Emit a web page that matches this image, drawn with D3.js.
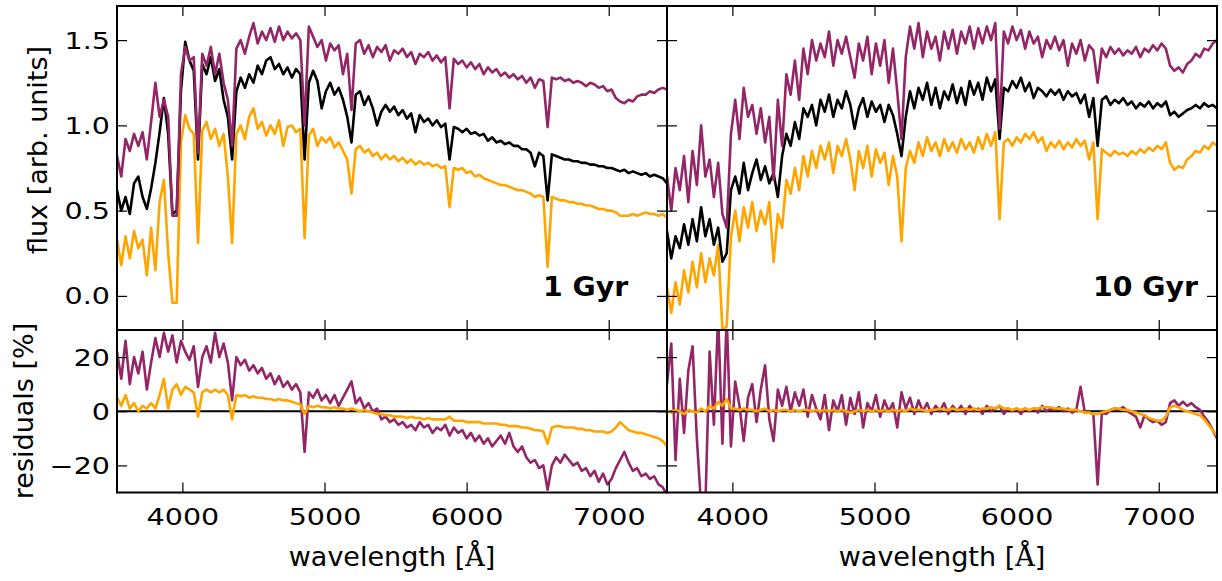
<!DOCTYPE html>
<html><head><meta charset="utf-8">
<script src="https://cdn.jsdelivr.net/npm/d3@7"></script>
<style>body{margin:0;background:#fff}svg{display:block}</style>
</head><body><svg id="c" width="1222" height="581"></svg>
<script>
// ---------- DATA ----------
const wavelengths = [
3540,3570,3600,3630,3660,3690,3720,3750,3780,3810,
3840,3870,3900,3930,3960,3990,4020,4050,4080,4110,
4140,4170,4200,4230,4260,4290,4320,4350,4380,4410,
4440,4470,4500,4530,4560,4590,4620,4650,4680,4710,
4740,4770,4800,4830,4860,4890,4920,4950,4980,5010,
5040,5070,5100,5130,5160,5190,5220,5250,5280,5310,
5340,5370,5400,5430,5460,5490,5520,5550,5580,5610,
5640,5670,5700,5730,5760,5790,5820,5850,5880,5910,
5940,5970,6000,6030,6060,6090,6120,6150,6180,6210,
6240,6270,6300,6330,6360,6390,6420,6450,6480,6510,
6540,6570,6600,6630,6660,6690,6720,6750,6780,6810,
6840,6870,6900,6930,6960,6990,7020,7050,7080,7110,
7140,7170,7200,7230,7260,7290,7320,7350,7380,7410];

// 1 Gyr fluxes
const flux1Black = [
0.62,0.50,0.58,0.48,0.66,0.70,0.58,0.51,0.63,0.78,
0.96,1.16,0.95,0.48,0.50,1.20,1.49,1.38,1.32,0.80,
1.36,1.30,1.40,1.26,1.33,1.15,1.05,0.80,1.20,1.28,
1.22,1.30,1.25,1.35,1.30,1.38,1.40,1.33,1.36,1.30,
1.34,1.28,1.33,1.30,0.80,1.25,1.32,1.26,1.10,1.20,
1.25,1.18,1.22,1.15,1.05,0.90,1.18,1.20,1.12,1.17,
1.10,1.00,1.08,1.12,1.08,1.11,1.06,1.09,1.04,1.07,
0.96,1.06,1.02,1.04,1.00,1.03,0.99,1.01,0.80,0.99,
0.98,0.96,0.98,0.95,0.96,0.94,0.95,0.91,0.93,0.90,
0.91,0.89,0.90,0.88,0.88,0.86,0.86,0.84,0.76,0.84,
0.82,0.56,0.83,0.82,0.81,0.80,0.80,0.79,0.79,0.78,
0.78,0.77,0.77,0.76,0.76,0.75,0.75,0.74,0.73,0.74,
0.72,0.73,0.72,0.71,0.72,0.70,0.71,0.70,0.69,0.66];
const flux1Orange = [
0.33,0.18,0.35,0.22,0.38,0.28,0.33,0.12,0.40,0.15,
0.55,0.68,0.25,-0.04,-0.04,0.90,1.06,0.98,0.95,0.31,
0.97,1.02,0.92,0.98,0.88,0.95,0.70,0.31,0.95,1.00,
0.92,1.05,1.10,0.98,1.02,0.94,1.00,0.95,1.03,0.88,
0.99,1.00,0.96,0.98,0.34,0.94,0.98,0.88,0.93,0.90,
0.93,0.87,0.90,0.85,0.80,0.60,0.86,0.88,0.84,0.86,
0.82,0.84,0.80,0.83,0.80,0.82,0.79,0.81,0.78,0.80,
0.77,0.79,0.77,0.78,0.76,0.77,0.75,0.76,0.52,0.75,
0.74,0.75,0.72,0.73,0.70,0.71,0.69,0.68,0.67,0.66,
0.65,0.65,0.64,0.63,0.62,0.62,0.61,0.60,0.58,0.59,
0.58,0.17,0.58,0.57,0.56,0.56,0.55,0.55,0.54,0.54,
0.53,0.53,0.52,0.51,0.51,0.50,0.50,0.49,0.47,0.47,
0.47,0.48,0.47,0.48,0.49,0.48,0.48,0.47,0.48,0.46];
const flux1Purple = [
0.82,0.70,0.92,0.85,0.95,0.88,0.96,0.80,1.02,1.25,
1.05,1.15,1.05,0.47,0.47,1.30,1.46,1.38,1.40,0.84,
1.42,1.35,1.46,1.30,1.42,1.25,1.15,0.88,1.45,1.50,
1.42,1.52,1.60,1.48,1.55,1.50,1.57,1.49,1.58,1.50,
1.55,1.51,1.54,1.50,1.00,1.58,1.52,1.46,1.50,1.38,
1.48,1.44,1.47,1.30,1.42,1.09,1.48,1.50,1.42,1.47,
1.40,1.46,1.43,1.47,1.38,1.44,1.42,1.45,1.40,1.43,
1.36,1.42,1.40,1.43,1.38,1.41,1.37,1.40,1.10,1.39,
1.36,1.38,1.34,1.37,1.33,1.36,1.30,1.34,1.31,1.33,
1.29,1.31,1.28,1.30,1.27,1.29,1.25,1.28,1.22,1.27,
1.26,0.99,1.28,1.27,1.28,1.26,1.27,1.25,1.26,1.25,
1.23,1.25,1.24,1.22,1.23,1.20,1.21,1.16,1.14,1.13,
1.15,1.14,1.17,1.18,1.18,1.20,1.19,1.21,1.22,1.21];

// 10 Gyr fluxes
const flux10Black = [
0.38,0.22,0.35,0.28,0.42,0.30,0.45,0.32,0.52,0.35,
0.45,0.30,0.40,0.20,0.25,0.62,0.70,0.60,0.78,0.62,
0.72,0.80,0.68,0.76,0.66,0.72,0.58,0.82,0.95,0.88,
1.02,0.92,1.10,1.05,1.12,1.00,1.15,1.08,1.18,1.05,
1.15,1.10,1.20,1.12,0.98,1.10,1.16,1.05,1.14,1.08,
1.12,1.02,1.12,1.06,0.95,0.82,1.05,1.20,1.10,1.22,
1.15,1.25,1.12,1.22,1.10,1.20,1.15,1.24,1.13,1.22,
1.12,1.26,1.18,1.25,1.15,1.28,1.20,1.27,0.92,1.22,
1.20,1.26,1.22,1.28,1.20,1.25,1.16,1.22,1.20,1.17,
1.21,1.18,1.21,1.15,1.20,1.17,1.19,1.13,1.18,1.05,
1.16,0.88,1.15,1.17,1.12,1.15,1.13,1.16,1.12,1.14,
1.10,1.13,1.11,1.14,1.10,1.13,1.11,1.14,1.06,1.08,
1.05,1.07,1.09,1.10,1.12,1.10,1.13,1.11,1.12,1.10];
const flux10Orange = [
0.05,-0.10,0.08,-0.05,0.15,0.02,0.20,0.05,0.25,0.08,
0.22,0.12,0.30,-0.20,-0.18,0.35,0.50,0.32,0.52,0.40,
0.55,0.38,0.50,0.42,0.55,0.20,0.48,0.40,0.68,0.60,
0.75,0.62,0.82,0.70,0.85,0.75,0.88,0.80,0.90,0.72,
0.88,0.82,0.92,0.80,0.62,0.85,0.75,0.88,0.70,0.86,
0.78,0.84,0.65,0.82,0.70,0.32,0.75,0.85,0.78,0.90,
0.82,0.93,0.85,0.90,0.82,0.92,0.85,0.90,0.84,0.92,
0.86,0.90,0.84,0.93,0.86,0.95,0.88,0.96,0.45,0.90,
0.92,0.88,0.93,0.90,0.95,0.92,0.96,0.90,0.93,0.85,
0.90,0.87,0.91,0.86,0.90,0.87,0.92,0.88,0.91,0.80,
0.90,0.45,0.86,0.84,0.82,0.85,0.83,0.84,0.82,0.85,
0.83,0.86,0.84,0.87,0.85,0.88,0.86,0.90,0.78,0.74,
0.76,0.75,0.80,0.82,0.85,0.84,0.88,0.86,0.90,0.88];
const flux10Purple = [
0.70,0.50,0.75,0.62,0.82,0.55,0.85,0.65,1.00,0.70,
0.80,0.58,0.78,0.48,0.40,0.95,1.15,0.92,1.22,1.05,
1.12,0.95,1.10,0.90,1.05,0.68,1.15,0.88,1.30,1.18,
1.38,1.15,1.45,1.30,1.50,1.38,1.48,1.40,1.55,1.35,
1.50,1.42,1.52,1.40,1.28,1.48,1.38,1.52,1.30,1.48,
1.35,1.50,1.25,1.45,1.20,0.92,1.40,1.58,1.45,1.60,
1.40,1.55,1.45,1.52,1.38,1.55,1.45,1.56,1.42,1.55,
1.48,1.58,1.45,1.57,1.48,1.58,1.50,1.60,0.98,1.55,
1.48,1.58,1.50,1.56,1.45,1.55,1.48,1.52,1.40,1.50,
1.45,1.52,1.44,1.50,1.35,1.48,1.42,1.50,1.38,1.47,
1.44,1.25,1.45,1.40,1.46,1.42,1.45,1.41,1.44,1.42,
1.46,1.40,1.45,1.43,1.47,1.44,1.48,1.45,1.35,1.32,
1.34,1.31,1.36,1.38,1.42,1.40,1.45,1.44,1.48,1.50];

// residuals [%]
const res1Purple = [
22,12,26,10,20,14,22,8,18,27,
20,29,22,28,18,26,22,19,24,9,
20,24,18,29,20,25,18,4,20,17,
19,15,17,14,16,12,14,10,13,9,
11,8,10,7,-15,7,5,8,4,6,
3,6,2,5,8,11,3,5,1,3,
0,1,-3,-2,-4,-3,-5,-4,-6,-5,
-7,-4,-6,-5,-8,-6,-7,-5,-9,-6,
-8,-7,-10,-8,-11,-9,-12,-10,-13,-11,
-9,-12,-8,-13,-15,-13,-17,-19,-18,-21,
-20,-29,-20,-17,-19,-16,-18,-20,-19,-22,
-21,-24,-22,-26,-23,-27,-25,-21,-18,-15,
-19,-22,-21,-24,-23,-25,-24,-27,-28,-31];
const res1Orange = [
5,2,6,1,3,0,2,1,3,1,
6,12,1,8,10,6,9,8,7,-2,
7,8,7,8,7,8,6,-3,6,5.5,
6,5,5.5,5,5,4.5,4.5,4,4.5,4,
4,3.5,3,2.5,-1,2,1.5,2,1.5,1.5,
1,1.5,1,1,0.5,1,0.5,0,0.5,0,
-0.5,-1,-1,-1.5,-1.5,-2,-2,-2,-2.5,-2,
-2.5,-2.5,-3,-2.5,-3,-3,-3,-3,-2,-3.5,
-3.5,-3.5,-4,-4,-4,-4,-4.5,-4.5,-4.5,-4.5,
-5,-5,-5.5,-5.5,-5.5,-6,-6,-6.5,-7,-7,
-7.5,-12,-6,-5.5,-5.5,-6,-6,-6,-6.5,-6.5,
-7,-7,-7.5,-7.5,-7.5,-8,-7.5,-6,-4,-5.5,
-7,-7.5,-8,-8,-8.5,-9,-9.5,-10,-11,-13];
const res10Purple = [
10,25,-18,12,-8,15,24,-10,-35,-35,
22,-5,35,-12,35,-13,11,2,-11,5,
10,-4,8,17,-3,-11,8,2,9,0,
7,2,8,-2,6,1,-3,6,-7,4,
0,6,-5,5,-1,7,-6,3,0,6,
-2,4,0,3,-6,7,1,5,-1,4,
0,3,-1,2,0,3,-1,2,0,2,
-1,2,0,1,-1,2,0,1,2,-1,
1,0,1,-1,1,0,1,-0.5,2,0,
1,0.5,1.5,0,1,-0.5,0.5,9,-0.5,-0.5,
-1,-27,-0.5,-1,0.5,1,0.5,1.5,0,-1,
-2,-6,-1.5,-3,-4,-3.5,-5,-4,3,4,
2,3.5,2,3,1.5,0.5,-2,-4,-7,-10];
const res10Orange = [
0.5,-0.5,0.5,0,-1,0.5,0,-0.5,1,0,
2,1,3.5,2,4.5,1,1,0.5,1,0.5,
0.5,0,0.5,1,0,0.5,0,0.5,0.5,0,
0.5,0,0.5,0.5,0,0.5,0,0.5,0,0.5,
0,0.5,0,-0.5,0,0.5,0,0.5,0,0.5,
0,0.5,0,0.5,0,0.5,0,1,0.5,0.5,
0.5,0,0.5,0.5,1,0.5,0.5,1,0.5,0.5,
1,0.5,1,0.5,1,1,1.5,1,2,1,
1,0.5,1,0.5,1,0.5,1,1,1.5,1.5,
1.5,1,1,1,0.5,0.5,0.5,0,-0.5,-0.5,
-1,-1,-0.5,0,0.5,1,1,0.5,0.5,0,
-0.5,-1,-1.5,-2.5,-3,-3.5,-3.5,-2,1.5,2,
1.5,0.5,0,-0.5,-1,-1.5,-3,-5,-7,-9];

const xTicks = [4000, 5000, 6000, 7000];
const fluxTicks = [0.0, 0.5, 1.0, 1.5];
const resTicks = [-20, 0, 20];
const panelLabels = ["1 Gyr", "10 Gyr"];

// ---------- LAYOUT ----------
const svg = d3.select("#c");
const COL = {purple: "#932667", orange: "#ffa500", black: "#000000"};
const FONT = "'DejaVu Sans', 'Bitstream Vera Sans', sans-serif";
const topY = [6, 330], botY = [330, 492.5];
const LW = 2.6;
const panels = [
  {x0: 117, x1: 667, label: panelLabels[0], labelX: 543, yLabels: true,
   flux: [["orange", flux1Orange], ["black", flux1Black], ["purple", flux1Purple]],
   res: [["purple", res1Purple], ["orange", res1Orange]]},
  {x0: 667, x1: 1217, label: panelLabels[1], labelX: 1093, yLabels: false,
   flux: [["orange", flux10Orange], ["black", flux10Black], ["purple", flux10Purple]],
   res: [["purple", res10Purple], ["orange", res10Orange]]}
];

const TS = 1.27; // tick label horizontal stretch
let clipId = 0;

function drawAxes(g, x, y, x0, x1, y0, y1, yTickVals, showXLabels, showYLabels, yFmt) {
  const gb = g.append("g").attr("transform", `translate(0,${y1})`)
    .call(d3.axisBottom(x).tickValues(xTicks).tickSizeInner(-10).tickSizeOuter(0)
      .tickFormat(showXLabels ? d3.format("d") : ""));
  const gt = g.append("g").attr("transform", `translate(0,${y0})`)
    .call(d3.axisTop(x).tickValues(xTicks).tickSizeInner(-10).tickSizeOuter(0).tickFormat(""));
  const gl = g.append("g").attr("transform", `translate(${x0},0)`)
    .call(d3.axisLeft(y).tickValues(yTickVals).tickSizeInner(-10).tickSizeOuter(0)
      .tickFormat(showYLabels ? yFmt : ""));
  const gr = g.append("g").attr("transform", `translate(${x1},0)`)
    .call(d3.axisRight(y).tickValues(yTickVals).tickSizeInner(-10).tickSizeOuter(0).tickFormat(""));
  [gb, gt, gl, gr].forEach(a => {
    a.select(".domain").remove();
    a.selectAll("line").attr("stroke", "#000").attr("stroke-width", 1.2);
  });
  gb.selectAll("text").attr("y", 32.5).attr("dy", null)
    .attr("font-family", FONT).attr("font-size", 22.5).attr("fill", "#000")
    .attr("transform", `scale(${TS},1)`);
  gl.selectAll("text").attr("x", -7 / TS).attr("y", 8).attr("dy", null)
    .attr("font-family", FONT).attr("font-size", 22.5).attr("fill", "#000")
    .attr("transform", `scale(${TS},1)`);
  [gt, gr].forEach(a => a.selectAll("text").remove());
  if (!showXLabels) gb.selectAll("text").remove();
  if (!showYLabels) gl.selectAll("text").remove();
}

function clip(x0, x1, y0, y1) {
  const id = "clip" + (clipId++);
  svg.append("clipPath").attr("id", id).append("rect")
    .attr("x", x0).attr("y", y0).attr("width", x1 - x0).attr("height", y1 - y0);
  return `url(#${id})`;
}

const fluxFmt = d3.format(".1f");
const resFmt = v => (v < 0 ? "\u2212" + Math.abs(v) : String(v));

panels.forEach(p => {
  const x = d3.scaleLinear().domain([3540, 7410]).range([p.x0, p.x1]);
  const yF = d3.scaleLinear().domain([-0.2, 1.7]).range([topY[1], topY[0]]);
  const yR = d3.scaleLinear().domain([-30, 30]).range([botY[1], botY[0]]);

  // ---- top: fluxes
  const gTop = svg.append("g");
  const cTop = clip(p.x0, p.x1, topY[0], topY[1]);
  const lineF = d3.line().x((d, i) => x(wavelengths[i])).y(d => yF(d));
  gTop.append("g").attr("clip-path", cTop).selectAll("path").data(p.flux).join("path")
    .attr("d", d => lineF(d[1])).attr("fill", "none")
    .attr("stroke", d => COL[d[0]]).attr("stroke-width", LW)
    .attr("stroke-linejoin", "round").attr("stroke-linecap", "round");
  drawAxes(gTop, x, yF, p.x0, p.x1, topY[0], topY[1], fluxTicks, false, p.yLabels, fluxFmt);
  gTop.append("text").attr("transform", `translate(${p.labelX},296) scale(1.09,1)`)
    .attr("font-family", FONT).attr("font-weight", "bold").attr("font-size", 26)
    .text(p.label);

  // ---- bottom: residuals
  const gBot = svg.append("g");
  const cBot = clip(p.x0, p.x1, botY[0], botY[1]);
  const inner = gBot.append("g").attr("clip-path", cBot);
  inner.append("line").attr("x1", p.x0).attr("x2", p.x1)
    .attr("y1", yR(0)).attr("y2", yR(0)).attr("stroke", "#000").attr("stroke-width", 2);
  const lineR = d3.line().x((d, i) => x(wavelengths[i])).y(d => yR(d));
  inner.selectAll("path").data(p.res).join("path")
    .attr("d", d => lineR(d[1])).attr("fill", "none")
    .attr("stroke", d => COL[d[0]]).attr("stroke-width", LW)
    .attr("stroke-linejoin", "round").attr("stroke-linecap", "round");
  drawAxes(gBot, x, yR, p.x0, p.x1, botY[0], botY[1], resTicks, true, p.yLabels, resFmt);

  // frames
  [[topY[0], topY[1]], [botY[0], botY[1]]].forEach(([a, b]) => {
    svg.append("rect").attr("x", p.x0).attr("y", a).attr("width", p.x1 - p.x0).attr("height", b - a)
      .attr("fill", "none").attr("stroke", "#000").attr("stroke-width", 2);
  });

  // x label
  const xl = svg.append("text").attr("x", (p.x0 + p.x1) / 2).attr("y", 566)
    .attr("text-anchor", "middle").attr("font-family", FONT).attr("font-size", 27);
  xl.append("tspan").text("wavelength [");
  xl.append("tspan").attr("font-family", "'DejaVu Serif', serif").text("\u00c5");
  xl.append("tspan").text("]");
});

// y labels
svg.append("text").attr("transform", "translate(47,150) rotate(-90)")
  .attr("text-anchor", "middle").attr("font-family", FONT).attr("font-size", 27)
  .text("flux [arb. units]");
svg.append("text").attr("transform", "translate(33,411) rotate(-90)")
  .attr("text-anchor", "middle").attr("font-family", FONT).attr("font-size", 27)
  .text("residuals [%]");
</script>
</body></html>
